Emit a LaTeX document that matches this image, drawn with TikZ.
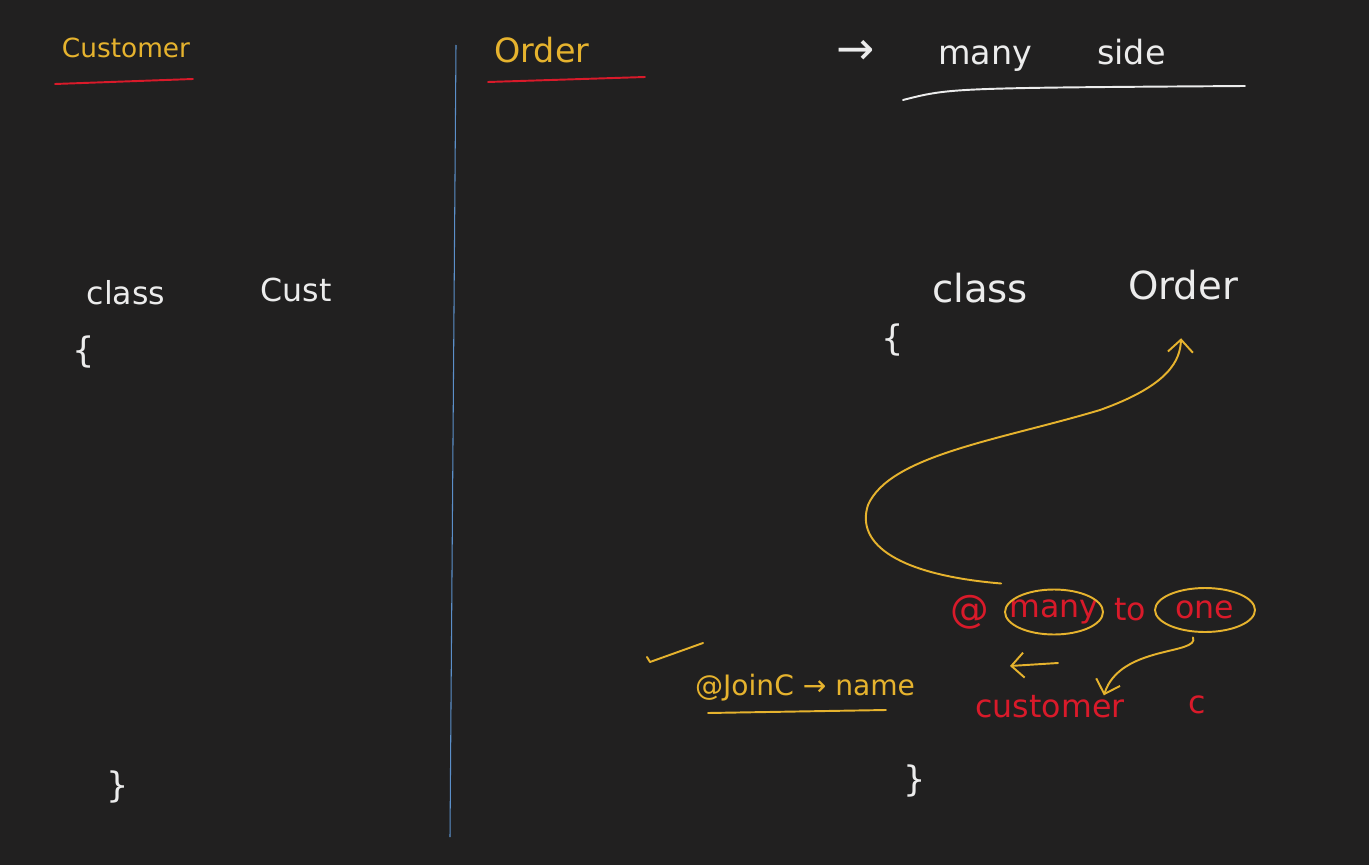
\documentclass[tikz,border=0pt]{standalone}
\usepackage{fontspec}
\setmainfont{DejaVu Sans}
\usetikzlibrary{arrows.meta,calc}
\definecolor{board}{HTML}{212020}
\definecolor{penyellow}{HTML}{E6B32E}
\definecolor{penred}{HTML}{D91A2A}
\definecolor{penwhite}{HTML}{ECECEC}
\definecolor{penblue}{HTML}{5B8FC9}
\newcommand{\hs}[1]{\fontsize{#1}{#1}\selectfont}

\begin{document}
\begin{tikzpicture}[x=0.02cm,y=-0.02cm,
   ink/.style={line width=1.1pt,line cap=round,line join=round},
   hand/.style={inner sep=0pt,font=\hs{18}},
   >={Straight Barb[length=2.5mm,width=5mm]}]
   \fill[board] (0,0) rectangle (1369,865);
   \useasboundingbox (0,0) rectangle (1369,865);
   \draw[penblue,line width=0.6pt] (456,45) -- (450,837);
   % left board
   \node[hand,text=penyellow,font=\hs{15}] (custhead) at (126,48) {Customer};
   \draw[ink,penred] (55,84) -- (193,79);
   \node[hand,text=penwhite] (clsa) at (126,293) {class};
   \node[hand,text=penwhite] (custname) at (296,290) {Cust};
   \node[hand,text=penwhite,font=\hs{20}] (opena) at (84,352) {\{};
   \node[hand,text=penwhite,font=\hs{20}] (closea) at (118,787) {\}};
   % right board
   \node[hand,text=penyellow,font=\hs{19}] (ordhead) at (542,50) {Order};
   \draw[ink,penred] (488,82) -- (645,77);
   \node[hand,text=penwhite,font=\hs{26}] (sidearrow) at (856,52) {→};
   \node[hand,text=penwhite,font=\hs{19}] (side) at (1052,55) {many\hspace{1.3cm}side};
   \draw[ink,penwhite] (903,100) .. controls (950,88) .. (1245,86);
   \node[hand,text=penwhite,font=\hs{22}] (clsb) at (980,288) {class};
   \node[hand,text=penwhite,font=\hs{22}] (ordname) at (1183,285) {Order};
   \node[hand,text=penwhite,font=\hs{20}] (openb) at (893,340) {\{};
   \node[hand,text=penwhite,font=\hs{20}] (closeb) at (915,781) {\}};
   \node[hand,text=penred,font=\hs{22}] (at) at (970,612) {@};
   \node[hand,text=penred] (many) at (1054,612) {many};
   \draw[ink,penyellow] (many) ellipse [x radius=0.98cm,y radius=0.45cm];
   \node[hand,text=penred] (to) at (1130,610) {to};
   \node[hand,text=penred] (one) at (1205,610) {one};
   \draw[ink,penyellow] (one) ellipse [x radius=1cm,y radius=0.44cm];
   \node[hand,text=penred] (custtype) at (1050,707) {customer};
   \node[hand,text=penred] (custvar) at (1197,705) {c};
   \node[hand,text=penyellow,font=\hs{16}] (join) at (805,688) {@JoinC → name};
   \draw[ink,penyellow] (708,713) -- (886,710);
   \draw[ink,penyellow] (647,657) -- (650,662) -- (703,643);
   \draw[ink,penyellow,->] (1058,663) -- (1010,666);
   \draw[ink,penyellow,->,shorten >=0.76cm] ($(many.north west)+(-8,-16)$)
      .. controls (900,575) and (855,545) .. (868,505)
      .. controls (890,455) and (1000,440) .. (1100,410)
      .. controls (1170,385) and (1180,360) .. (ordname.south);
   \draw[ink,penyellow,->] ($(one.south)+(-12,18)$)
      .. controls (1200,655) and (1120,645) .. ($(custtype.north)!0.72!(custtype.north east)$);
\end{tikzpicture}
\end{document}
